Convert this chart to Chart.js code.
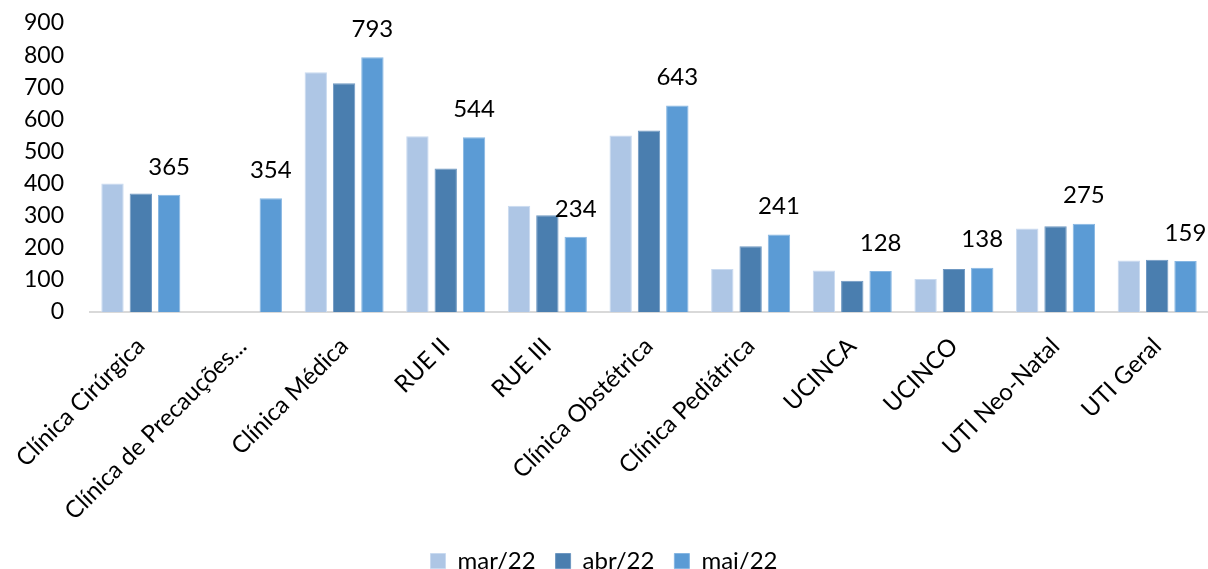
<!DOCTYPE html>
<html>
<head>
<meta charset="utf-8">
<script src="https://cdn.jsdelivr.net/npm/chart.js@4"></script>
<style>
  html, body { margin: 0; padding: 0; background: #fff; }
  #wrap { width: 1208px; height: 569px; }
</style>
</head>
<body>
<div id="wrap"><canvas id="chart"></canvas></div>
<script>
const setores = [
    "Clínica Cirúrgica", "Clínica de Precauções...", "Clínica Médica", "RUE II", "RUE III",
    "Clínica Obstétrica", "Clínica Pediátrica", "UCINCA", "UCINCO", "UTI Neo-Natal", "UTI Geral"
];
const mar22 = [400, null, 747, 547, 331, 550, 134, 129, 103, 260, 160];
const abr22 = [369, null, 712, 447, 301, 565, 205, 97, 134, 267, 163];
const mai22 = [365, 354, 793, 544, 234, 643, 241, 128, 138, 275, 159];

const fonte = "Lato, 'Open Sans', sans-serif";

// rotulos so na serie mai/22
const rotulos = {
    id: "rotulos",
    afterDatasetsDraw(chart) {
        const ctx = chart.ctx;
        const meta = chart.getDatasetMeta(2);
        ctx.save();
        ctx.font = "24px " + fonte;
        ctx.fillStyle = "#000";
        ctx.textAlign = "center";
        ctx.textBaseline = "middle";
        meta.data.forEach((bar, i) => {
            const v = mai22[i];
            if (v == null) return;
            ctx.fillText(v, bar.x, bar.y - 28);
        });
        ctx.restore();
    }
};

new Chart(document.getElementById("chart"), {
    type: "bar",
    data: {
        labels: setores,
        datasets: [
            { label: "mar/22", data: mar22, backgroundColor: "#AEC6E5", borderColor: "#C9DAF0", borderWidth: 1 },
            { label: "abr/22", data: abr22, backgroundColor: "#4A7EAF", borderColor: "#6F98C2", borderWidth: 1 },
            { label: "mai/22", data: mai22, backgroundColor: "#5B9BD5", borderColor: "#86B6E2", borderWidth: 1 }
        ]
    },
    options: {
        responsive: true,
        maintainAspectRatio: false,
        animation: false,
        layout: { padding: { top: 23, right: 0, left: 0, bottom: -14 } },
        datasets: { bar: { categoryPercentage: 0.836, barPercentage: 0.79 } },
        plugins: {
            tooltip: { enabled: false },
            legend: {
                position: "bottom",
                labels: {
                    font: { family: fonte, size: 24 },
                    color: "#000",
                    boxWidth: 15,
                    boxHeight: 15,
                    padding: 20
                }
            }
        },
        scales: {
            x: {
                grid: { display: false },
                border: { color: "#D9D9D9", width: 2 },
                ticks: {
                    font: { family: fonte, size: 24 },
                    color: "#000",
                    maxRotation: 45,
                    minRotation: 45,
                    autoSkip: false,
                    padding: 12
                },
                afterFit(scale) { scale.height = 217; }
            },
            y: {
                min: 0,
                max: 900,
                grid: { display: false },
                border: { display: false },
                ticks: {
                    stepSize: 100,
                    autoSkip: false,
                    font: { family: fonte, size: 23 },
                    color: "#000",
                    padding: 18
                },
                afterFit(scale) {
                    scale.width = 90;
                    scale.paddingTop = 0;
                }
            }
        }
    },
    plugins: [rotulos]
});
</script>
</body>
</html>
